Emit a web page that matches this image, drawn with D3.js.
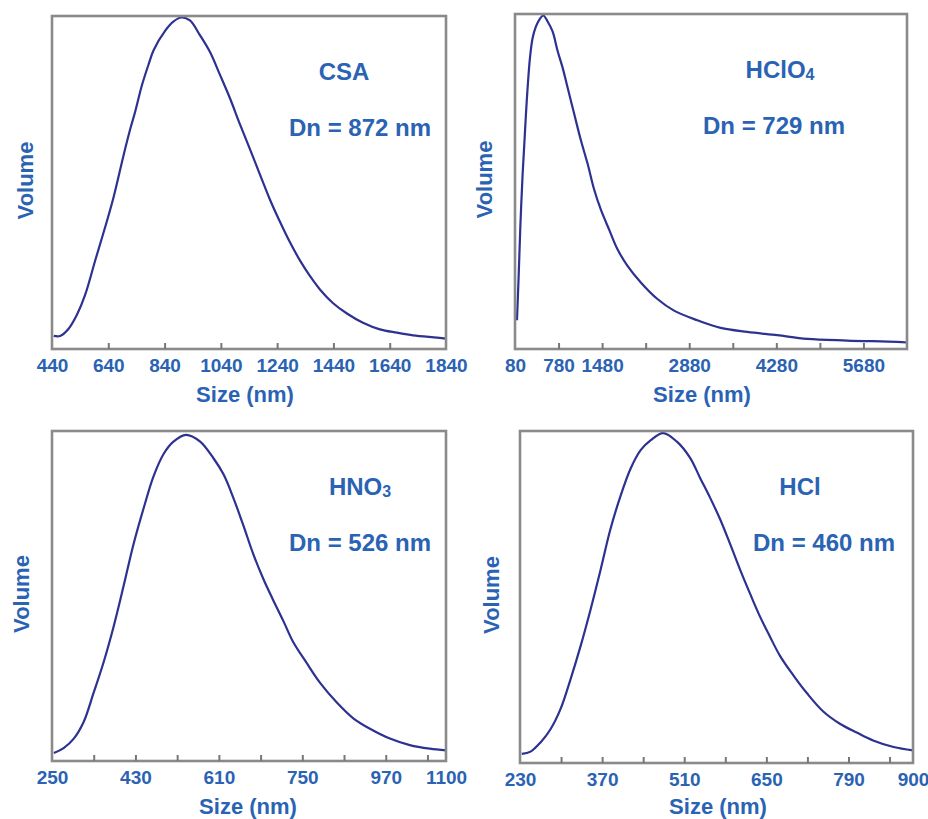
<!DOCTYPE html>
<html>
<head>
<meta charset="utf-8">
<script src="https://cdn.jsdelivr.net/npm/d3@7"></script>
<style>
body { margin: 0; background: #fff; }
text { font-family: "Liberation Sans", Arial, sans-serif; font-weight: bold; }
</style>
</head>
<body>
<svg id="chart" width="928" height="819"></svg>
<script>
// size distributions (size in nm, normalised volume)
var csaSize   = [446, 469, 499, 529, 558, 594, 629, 659, 695, 718, 736, 760, 784, 801, 843, 870, 900, 930, 966, 1001, 1037, 1072, 1108, 1143, 1179, 1215, 1250, 1286, 1321, 1357, 1392, 1438, 1488, 1545, 1605, 1666, 1723, 1808, 1840];
var csaVolume = [0.035, 0.035, 0.057, 0.100, 0.160, 0.265, 0.365, 0.456, 0.585, 0.662, 0.716, 0.796, 0.860, 0.901, 0.961, 0.987, 1.0, 0.991, 0.946, 0.896, 0.826, 0.756, 0.676, 0.602, 0.524, 0.447, 0.381, 0.318, 0.264, 0.216, 0.176, 0.135, 0.103, 0.075, 0.055, 0.045, 0.037, 0.030, 0.027];

var hclo4Size   = [112, 139, 166, 203, 230, 256, 283, 321, 363, 417, 470, 535, 604, 684, 765, 845, 925, 1032, 1139, 1246, 1353, 1460, 1593, 1727, 1888, 2102, 2369, 2636, 3011, 3385, 3813, 4294, 4776, 5417, 6220, 6380];
var hclo4Volume = [0.082, 0.216, 0.365, 0.524, 0.614, 0.703, 0.783, 0.873, 0.932, 0.967, 0.987, 1.0, 0.982, 0.952, 0.893, 0.843, 0.783, 0.703, 0.624, 0.554, 0.475, 0.415, 0.355, 0.296, 0.246, 0.196, 0.146, 0.111, 0.082, 0.059, 0.047, 0.037, 0.026, 0.021, 0.017, 0.015];

var hno3Size   = [254, 275, 297, 318, 340, 361, 383, 404, 426, 448, 469, 491, 512, 539, 569, 598, 620, 641, 663, 684, 706, 727, 749, 770, 799, 828, 864, 900, 936, 979, 1022, 1065, 1100];
var hno3Volume = [0.020, 0.035, 0.064, 0.114, 0.205, 0.296, 0.407, 0.528, 0.659, 0.770, 0.866, 0.935, 0.972, 0.993, 0.973, 0.922, 0.872, 0.801, 0.715, 0.629, 0.552, 0.488, 0.424, 0.360, 0.296, 0.235, 0.175, 0.126, 0.094, 0.064, 0.044, 0.033, 0.028];

var hclSize   = [233, 248, 265, 282, 299, 316, 333, 350, 367, 384, 401, 419, 436, 453, 474, 497, 520, 537, 554, 571, 588, 605, 622, 639, 656, 673, 696, 719, 747, 776, 804, 832, 867, 900];
var hclVolume = [0.023, 0.030, 0.058, 0.098, 0.159, 0.249, 0.349, 0.460, 0.580, 0.705, 0.805, 0.892, 0.947, 0.977, 0.998, 0.973, 0.923, 0.862, 0.802, 0.737, 0.662, 0.584, 0.511, 0.441, 0.380, 0.322, 0.262, 0.208, 0.152, 0.114, 0.088, 0.064, 0.044, 0.034];

// axis ranges, tick marks and tick labels
var csaDomain = [440, 1840];
var csaMarks = [640, 840, 1040, 1240, 1440, 1640];
var csaLabelValues = [440, 640, 840, 1040, 1240, 1440, 1640, 1840];
var csaLabels = ["440", "640", "840", "1040", "1240", "1440", "1640", "1840"];

var hclo4Domain = [80, 6380];
var hclo4Marks = [780, 1480, 2180, 2880, 3580, 4280, 4980, 5680];
var hclo4LabelValues = [80, 780, 1480, 2880, 4280, 5680];
var hclo4Labels = ["80", "780", "1480", "2880", "4280", "5680"];

var hno3Domain = [250, 1100];
var hno3Marks = [340, 430, 520, 610, 700, 790, 880, 970, 1060];
var hno3LabelValues = [250, 430, 610, 790, 970, 1100];
var hno3Labels = ["250", "430", "610", "750", "970", "1100"];

var hclDomain = [230, 900];
var hclMarks = [300, 370, 440, 510, 580, 650, 720, 790, 860];
var hclLabelValues = [230, 370, 510, 650, 790, 900];
var hclLabels = ["230", "370", "510", "650", "790", "900"];

var names = [["CSA", ""], ["HClO", "4"], ["HNO", "3"], ["HCl", ""]];
var dnText = ["Dn = 872 nm", "Dn = 729 nm", "Dn = 526 nm", "Dn = 460 nm"];

var textColor = "#2a63b3",
    lineColor = "#2d3190",
    frameColor = "#8a8a8a";

var panels = [
    {size: csaSize, vol: csaVolume, domain: csaDomain, marks: csaMarks, lv: csaLabelValues, lt: csaLabels,
     x0: 52, x1: 446, y0: 16, y1: 349, volX: 33, titleX: 245, titleY: 402, nameX: 344, dnX: 360},
    {size: hclo4Size, vol: hclo4Volume, domain: hclo4Domain, marks: hclo4Marks, lv: hclo4LabelValues, lt: hclo4Labels,
     x0: 515, x1: 907, y0: 14, y1: 349, volX: 492, titleX: 702, titleY: 402, nameX: 780, dnX: 774},
    {size: hno3Size, vol: hno3Volume, domain: hno3Domain, marks: hno3Marks, lv: hno3LabelValues, lt: hno3Labels,
     x0: 52, x1: 446, y0: 431, y1: 761, volX: 29, titleX: 248, titleY: 814, nameX: 360, dnX: 360},
    {size: hclSize, vol: hclVolume, domain: hclDomain, marks: hclMarks, lv: hclLabelValues, lt: hclLabels,
     x0: 520, x1: 913, y0: 431, y1: 763, volX: 499, titleX: 718, titleY: 814, nameX: 800, dnX: 824}
];

var svg = d3.select("#chart");

panels.forEach(function (p, i) {
    var g = svg.append("g");
    var x = d3.scaleLinear().domain(p.domain).range([p.x0, p.x1]),
        y = d3.scaleLinear().domain([0, 1]).range([p.y1 - 1.5, p.y0 + 1.5]);

    var line = d3.line()
        .x(function (d, j) { return x(p.size[j]); })
        .y(function (d) { return y(d); })
        .curve(d3.curveCatmullRom.alpha(0.5));

    g.append("path")
        .datum(p.vol)
        .attr("d", line)
        .attr("fill", "none")
        .attr("stroke", lineColor)
        .attr("stroke-width", 2.2);

    g.append("rect")
        .attr("x", p.x0).attr("y", p.y0)
        .attr("width", p.x1 - p.x0).attr("height", p.y1 - p.y0)
        .attr("fill", "none")
        .attr("stroke", frameColor)
        .attr("stroke-width", 2.6);

    // inward tick marks
    var marks = g.append("g")
        .attr("transform", "translate(0," + p.y1 + ")")
        .call(d3.axisBottom(x).tickValues(p.marks).tickSize(-6).tickFormat(""));
    marks.select(".domain").remove();
    marks.selectAll("line").attr("stroke", "#777").attr("stroke-width", 2);

    // tick labels
    var labels = g.append("g")
        .attr("transform", "translate(0," + p.y1 + ")")
        .call(d3.axisBottom(x).tickValues(p.lv).tickSize(0).tickPadding(10)
            .tickFormat(function (d, j) { return p.lt[j]; }));
    labels.select(".domain").remove();
    labels.selectAll("text")
        .attr("fill", textColor)
        .style("font-size", "19px")
        .style("font-family", "'Liberation Sans', Arial, sans-serif")
        .style("font-weight", "bold");

    g.append("text")
        .attr("x", p.titleX).attr("y", p.titleY)
        .attr("text-anchor", "middle")
        .attr("fill", textColor)
        .style("font-size", "22px")
        .text("Size (nm)");

    g.append("text")
        .attr("transform", "translate(" + p.volX + "," + ((p.y0 + p.y1) / 2 - 2) + ") rotate(-90)")
        .attr("text-anchor", "middle")
        .attr("fill", textColor)
        .style("font-size", "22px")
        .text("Volume");

    var nm = g.append("text")
        .attr("x", p.nameX).attr("y", p.y0 + 64)
        .attr("text-anchor", "middle")
        .attr("fill", textColor)
        .style("font-size", "24px")
        .text(names[i][0]);
    if (names[i][1]) {
        nm.append("tspan").attr("dy", 2).style("font-size", "16px").text(names[i][1]);
    }

    g.append("text")
        .attr("x", p.dnX).attr("y", p.y0 + 120)
        .attr("text-anchor", "middle")
        .attr("fill", textColor)
        .style("font-size", "24px")
        .text(dnText[i]);
});
</script>
</body>
</html>
